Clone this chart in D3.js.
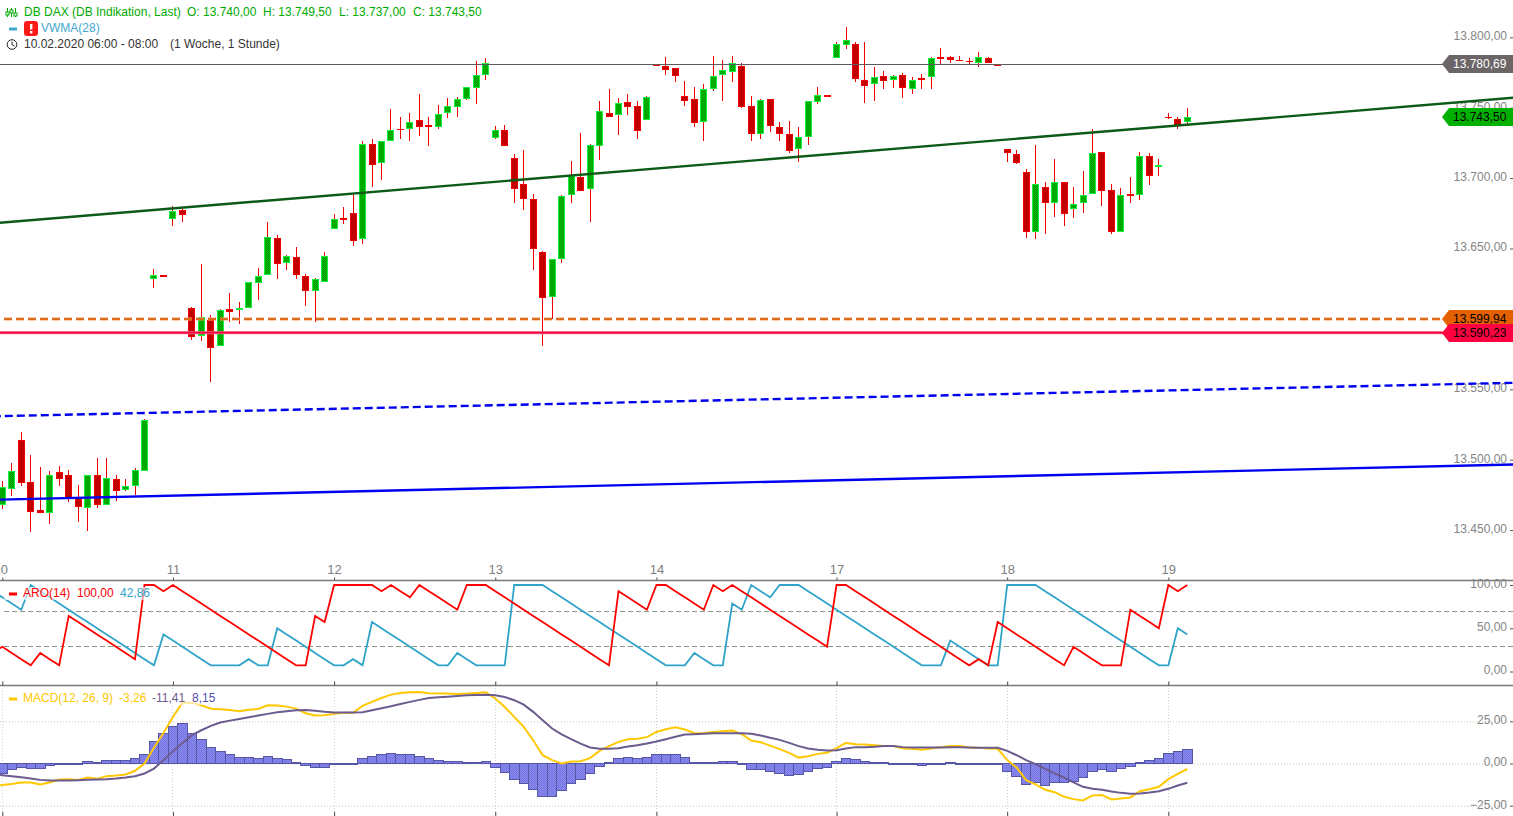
<!DOCTYPE html>
<html>
<head>
<meta charset="utf-8">
<script src="https://cdn.jsdelivr.net/npm/d3@7"></script>
<style>
body { margin: 0; background: #fff; overflow: hidden; }
text { font-family: "Liberation Sans", Arial, sans-serif; font-size: 12px; }
</style>
</head>
<body>
<div id="chart"></div>
<script>
// hourly candles
var opens = [13467.5,13479.5,13514,13484,13464.5,13462,13491,13489,13473.5,13466,
13489,13467.5,13486,13478.5,13481,13492,13628,13631,13671,13677,
13607.5,13588,13599,13580.5,13607,13606.5,13608,13625.5,13631.5,13657.5,
13640,13644,13630.5,13620,13626.5,13663.5,13672,13675,13656.5,13724.5,
13710.5,13726,13735,13735,13741,13737.5,13736,13746,13750.5,13756,
13764,13773.5,13728.5,13734.5,13714,13695.5,13685,13647.5,13615.5,13642.5,
13688,13700.5,13692,13722.5,13746.5,13744.5,13754,13751.5,13741,13781,
13779.5,13778.5,13758,13756.5,13739.5,13763,13773,13775.5,13779.5,13751,
13731,13756.5,13736,13731,13720.5,13729.5,13754,13759,13785,13794.5,
13795,13770,13766.5,13772.5,13770,13773,13763.5,13771,13771.5,13786,
13786,13784,13783.5,13782,13785,13781,13721,13717,13704,13662,
13694,13682,13697.5,13678,13682,13688.5,13718.5,13691.5,13662,13688.5,
13688,13716,13708,13743.5,13742,13740]
var highs = [13485,13497.5,13519.5,13503,13495,13492,13495.5,13493,13482,13489,
13501,13501,13489,13486.5,13494,13529,13635.5,13631,13680.5,13678.5,
13608.5,13639,13602.5,13607,13618.5,13612,13626.5,13636.5,13668.5,13659.5,
13645.5,13651,13632,13629,13647.5,13674.5,13679.5,13688,13726,13727.5,
13726,13749,13743.5,13746,13759.5,13743.5,13752,13757,13757.5,13764.5,
13783,13785.5,13737,13737.5,13717,13720,13688.5,13648,13642.5,13688,
13712.5,13732,13724.5,13755,13763.5,13757,13759.5,13755,13758.5,13781,
13786,13778.5,13769,13764.5,13767,13786.5,13784,13786.5,13781.5,13758.5,
13756.5,13756.5,13740,13740.5,13736,13754.5,13764.5,13759,13796.5,13807.5,
13796.5,13796.5,13779,13776,13773,13775,13771.5,13774,13786,13792.5,
13786.5,13786.5,13785,13789.5,13786,13781,13721,13720,13706.5,13723.5,
13697.5,13713.5,13697.5,13694,13705,13735,13718.5,13696,13693,13700.5,
13718.5,13717.5,13713.5,13746.5,13743.5,13749.5]
var lows = [13465,13474.5,13481,13449,13462.5,13454.5,13481,13470,13455.5,13449.5,
13466,13467.5,13471,13478,13475,13492,13622,13630,13666,13669,
13585,13584,13555.5,13580.5,13598,13596.5,13607.5,13613.5,13631.5,13628.5,
13634.5,13628,13609.5,13597.5,13626.5,13663.5,13667.5,13652,13653.5,13694,
13699,13726,13728,13726,13730,13723,13735,13742.5,13743.5,13755.5,
13752.5,13769.5,13727.5,13722.5,13682.5,13677,13635,13580.5,13600,13640,
13682.5,13690.5,13668.5,13713,13743.5,13730.5,13744.5,13728,13741,13780.5,
13773.5,13768.5,13751.5,13736.5,13726.5,13762,13755,13768.5,13750,13726.5,
13728,13732.5,13726.5,13718,13711.5,13723.5,13752.5,13758.5,13785,13791.5,
13768.5,13753.5,13754.5,13763,13764,13757,13760,13763.5,13763.5,13780.5,
13781.5,13783.5,13780.5,13779,13781.5,13780.5,13711.5,13710,13657.5,13657,
13660,13672.5,13666,13672,13675.5,13688.5,13680.5,13660.5,13662,13682.5,
13684.5,13695,13701.5,13742,13735,13737]
var closes = [13480.5,13492,13483.5,13463,13462.5,13489,13486.5,13472.5,13466.5,13489,
13467.5,13487,13478,13481,13493,13528,13631,13630,13676.5,13673.5,
13587.5,13601,13579.5,13606,13605,13608,13626.5,13630.5,13658,13639,
13644.5,13631.5,13619.5,13628,13645,13671,13670,13655.5,13724,13709.5,
13726,13734.5,13734.5,13739.5,13736,13736,13745.5,13751,13756.5,13764.5,
13773,13781.5,13734,13722.5,13692.5,13685.5,13650,13614.5,13642.5,13687,
13701.5,13690.5,13723.5,13748,13743.5,13753,13750.5,13733.5,13757.5,13780.5,
13777,13772.5,13755,13739,13763,13772.5,13776.5,13781.5,13750.5,13731,
13755.5,13737,13731.5,13719.5,13729.5,13754.5,13759,13758.5,13795,13798,
13770.5,13765.5,13771.5,13769,13772.5,13764,13770,13770.5,13785,13785,
13784,13783.5,13783,13786,13781.5,13780.5,13717.5,13711,13661.5,13695.5,
13682,13697,13674.5,13681.5,13688,13717.5,13690.5,13662,13688,13687.5,
13716,13701.5,13709,13743,13737.5,13743.5]

var dayTicks = [0,18,35,52,69,88,106,123]
var dayLabels = ["10","11","12","13","14","17","18","19"]
var priceTicks = [13800,13750,13700,13650,13600,13550,13500,13450]
var aroTicks = [100,50,0]
var aroLevels = [70,30]
var macdTicks = [25,0,-25]

// trend lines, [bar, price]
var greenTrend = [[-1,13667.9],[160,13757.4]]
var blueDashTrend = [[-1,13530.8],[160,13554.7]]
var blueTrend = [[-1,13471.5],[160,13496.7]]
var lastClose = 13780.69
var orangeLevel = 13599.94
var redLevel = 13590.23
var tagPrices = [13780.69,13743.50,13599.94,13590.23]
var tagFills = ["#6b6567","#00b000","#e46000","#ff0040"]
var tagText = ["#fff","#000","#000","#000"]

// both aroon series start one bar before the visible chart
var aroUp = [21.43,28.57,21.43,14.29,7.14,21.43,14.29,7.14,64.29,57.14,50,42.86,35.71,28.57,21.43,14.29,
100,100,92.86,100,92.86,85.71,78.57,71.43,64.29,57.14,50,42.86,35.71,28.57,21.43,14.29,7.14,7.14,64.29,57.14,
100,100,100,100,100,92.86,100,92.86,85.71,100,92.86,85.71,78.57,71.43,100,100,100,92.86,85.71,78.57,71.43,
64.29,57.14,50,42.86,35.71,28.57,21.43,14.29,7.14,92.86,85.71,78.57,71.43,100,100,92.86,85.71,78.57,71.43,
100,92.86,100,92.86,85.71,78.57,71.43,64.29,57.14,50,42.86,35.71,28.57,100,100,92.86,85.71,78.57,71.43,
64.29,57.14,50,42.86,35.71,28.57,21.43,14.29,7.14,14.29,7.14,57.14,50,42.86,35.71,28.57,21.43,14.29,7.14,
28.57,21.43,14.29,7.14,7.14,7.14,71.43,64.29,57.14,50,100,92.86,100]
var aroDown = [92.86,85.71,78.57,71.43,100,92.86,85.71,78.57,71.43,64.29,57.14,50,42.86,35.71,28.57,21.43,14.29,7.14,
42.86,35.71,28.57,21.43,14.29,7.14,7.14,7.14,7.14,14.29,7.14,7.14,50,42.86,35.71,28.57,21.43,14.29,7.14,7.14,14.29,7.14,
57.14,50,42.86,35.71,28.57,21.43,14.29,7.14,7.14,21.43,14.29,7.14,7.14,7.14,7.14,100,100,100,100,
92.86,85.71,78.57,71.43,64.29,57.14,50,42.86,35.71,28.57,21.43,14.29,7.14,7.14,7.14,21.43,14.29,7.14,7.14,
78.57,71.43,100,92.86,85.71,100,100,100,92.86,85.71,78.57,71.43,64.29,57.14,50,42.86,35.71,28.57,21.43,14.29,7.14,7.14,7.14,
35.71,28.57,21.43,14.29,7.14,7.14,100,100,100,100,92.86,85.71,78.57,71.43,64.29,57.14,50,42.86,35.71,28.57,21.43,14.29,7.14,7.14,50,42.86]

// macd and signal also start one bar before the visible chart
var macdLine = [-13.8,-12.8,-12.2,-11.2,-11.2,-12.4,-11.2,-9.5,-9.3,-9.7,-8.3,-9.1,-7.5,-7.1,-6.5,-4.3,0,9.3,18.1,27.6,36.1,
35.9,34.5,32.5,32.1,31.7,31,31.9,32.3,34.5,34.3,33.7,32.5,29.8,28.4,28.6,29.4,30,30,34.1,36.5,38.8,40.8,41.8,42.2,42.4,
41.6,41.4,41.4,41.2,41.4,41.8,42.2,38.5,33.5,27.6,21.7,13.8,4.9,2,0,1.2,1.4,3.2,7.5,10.3,12.8,14.4,14.6,15.6,18.7,20.3,
21.5,20.1,17.9,18.1,18.7,19.1,19.5,17.4,13.6,12.6,10.6,8.5,6.3,3.5,4.3,5.7,6.3,9.1,12.2,11.4,11.2,10.8,10.3,10.3,8.9,8.7,
8.1,8.9,9.7,10.3,10.3,9.5,9.3,8.9,8.7,2,-2.4,-9.9,-12.4,-15.6,-17,-19.7,-21.1,-21.9,-18.9,-18.7,-21.3,-20.7,-20.1,-16.4,
-15.2,-13.8,-9.3,-6.1,-3.26]
var signalLine = [-6.5,-6.9,-7.5,-8.1,-8.9,-9.7,-10.1,-10.1,-10.1,-9.9,-9.7,-9.5,-9.3,-8.9,-8.3,-7.5,-5.9,-3,2,7.3,12.2,
16.8,19.7,22.3,24.3,25.4,26.4,27.4,28.4,29.4,30.4,31,31.6,31.7,31.2,30.6,30.2,30.2,30.2,30.4,31.6,32.7,33.9,35.3,36.5,37.7,
38.8,39.2,39.6,40,40.4,40.6,40.8,40.4,39.4,37.5,34.9,30.6,25.6,20.7,17.2,14.4,11.8,9.5,8.7,8.7,9.1,10.1,10.8,11.8,13,14.4,
15.8,17.2,17.4,17.6,17.9,17.9,17.9,17.9,17.6,16.6,15.2,14,12.2,10.3,8.9,8.1,7.7,7.9,8.9,9.7,9.7,9.9,10.3,10.3,9.7,9.5,
9.5,9.5,9.5,9.7,9.7,9.5,9.3,9.3,9.3,7.5,4.9,2,-0.4,-3,-5.9,-8.3,-11.2,-13.8,-15,-15.6,-16.6,-17.4,-17.9,-17.7,
-17.2,-16.4,-15,-13,-11.41]
var macdHist = [-5.9,-3.5,-2.4,-3.2,-3,-1.4,0,0,0,1.4,0.8,1.8,1.8,1.8,3,5.3,13,17.7,21.9,23.7,
17.7,14.2,9.5,7.1,5.3,3.5,3.5,3,4.1,3,2.4,0.8,-1.2,-2.6,-2.6,-0.6,0,-0.6,3,4.1,
5.3,5.9,5.3,5.3,4.1,3,1.8,1.2,1.2,0.6,0.6,1.2,-2.6,-5.3,-9.5,-11.8,-15.4,-19.5,-19.5,-16,
-11.8,-9.5,-5.9,-2,0.6,3,3.5,3,3.5,5.3,5.3,5.3,3.5,0.6,0.4,0.4,1.2,1.2,-0.4,-3.5,
-3.5,-4.7,-5.9,-7.1,-6.5,-4.7,-3,-2.4,1.2,3,2.4,1.2,0.8,0.8,0,-0.6,-0.6,-1.2,0,0,
0.8,0,0,0,-0.6,-0.6,-4.7,-7.7,-12.4,-11.2,-13,-11.2,-11.2,-10.6,-8.3,-4.7,-3.5,-4.7,-3,-1.8,
0.6,1.8,3,5.9,7.1,8.15]

var width = 1513
var height = 816
var panes = {
    mainBottom: 580.5,
    aroBottom: 685.5
}

var fmt = d3.formatLocale({decimal: ",", thousands: ".", grouping: [3], currency: ["", ""]}).format(",.2f")

var x = d3.scaleLinear().domain([0,125]).range([2.3,1187.3])
var y = d3.scaleLinear().domain([13450,13800]).range([530.1,37.3])
var yAro = d3.scaleLinear().domain([0,100]).range([671.5,585])
var yMacd = d3.scaleLinear().domain([-25,25]).range([805.7,721.3])

var svg = d3.select("#chart").append("svg").attr("width",width).attr("height",height).style("display","block")
var defs = svg.append("defs")

// the original paints the bodies with a dither, a small checker gets close
function checker(id, c1, c2){
    var p = defs.append("pattern").attr("id",id).attr("width",2).attr("height",2).attr("patternUnits","userSpaceOnUse")
    p.append("rect").attr("width",2).attr("height",2).attr("fill",c1)
    p.append("rect").attr("width",1).attr("height",1).attr("fill",c2)
    p.append("rect").attr("x",1).attr("y",1).attr("width",1).attr("height",1).attr("fill",c2)
}
checker("upFill","#00bc00","#009a00")
checker("downFill","#d40000","#ae0000")
checker("histFill","#8c8cf0","#7474e0")

// price axis, drawn first so the lines run over its labels
var priceAxis = d3.axisLeft(y).tickValues(priceTicks).tickFormat(fmt).tickSize(3).tickPadding(3)
var gPrice = svg.append("g").attr("transform","translate(1513,0)").call(priceAxis)
gPrice.select(".domain").remove()
gPrice.selectAll("line").attr("stroke","#555")
gPrice.selectAll("text").attr("fill","#858585").attr("dy","0.2em").style("font-size","12px").style("font-family","'Liberation Sans', Arial")

// candles
var bars = d3.range(opens.length)
var candles = svg.append("g").attr("shape-rendering","crispEdges")
candles.selectAll("line").data(bars).enter().append("line")
    .attr("x1", function(d){ return Math.floor(x(d)) + 0.5 })
    .attr("x2", function(d){ return Math.floor(x(d)) + 0.5 })
    .attr("y1", function(d){ return y(highs[d]) })
    .attr("y2", function(d){ return y(lows[d]) })
    .attr("stroke","#f00000")
candles.selectAll("rect").data(bars).enter().append("rect")
    .attr("x", function(d){ return Math.floor(x(d)) - 2.5 })
    .attr("y", function(d){ return y(Math.max(opens[d],closes[d])) + 0.5 })
    .attr("width",6)
    .attr("height", function(d){ return Math.max(Math.abs(y(opens[d]) - y(closes[d])) - 1, 0.6) })
    .attr("fill", function(d){ return closes[d] >= opens[d] ? "url(#upFill)" : "url(#downFill)" })
    .attr("stroke", function(d){ return closes[d] >= opens[d] ? "#14f03c" : "#f50000" })

// trend lines and levels
var trendLine = d3.line().x(function(d){ return x(d[0]) }).y(function(d){ return y(d[1]) })
svg.append("line").attr("x1",0).attr("x2",1445).attr("y1",65.5).attr("y2",65.5).datum(lastClose)
    .attr("y1",function(d){ return Math.round(y(d)) + 0.5 }).attr("y2",function(d){ return Math.round(y(d)) + 0.5 })
    .attr("stroke","#5f5a60").attr("shape-rendering","crispEdges")
svg.append("line").attr("x1",4).attr("x2",1445).attr("y1",y(orangeLevel)).attr("y2",y(orangeLevel))
    .attr("stroke","#f0a070").attr("stroke-width",3).attr("stroke-dasharray","8,4")
svg.append("line").attr("x1",4).attr("x2",1445).attr("y1",y(orangeLevel)).attr("y2",y(orangeLevel))
    .attr("stroke","#d85a00").attr("stroke-width",1.6).attr("stroke-dasharray","8,4")
svg.append("line").attr("x1",0).attr("x2",1445).attr("y1",y(redLevel)).attr("y2",y(redLevel))
    .attr("stroke","#ff7095").attr("stroke-width",3)
svg.append("line").attr("x1",0).attr("x2",1445).attr("y1",y(redLevel)).attr("y2",y(redLevel))
    .attr("stroke","#f5003c").attr("stroke-width",1.6)
svg.append("path").attr("d",trendLine(greenTrend)).attr("fill","none").attr("stroke","#0b5a16").attr("stroke-width",2.4)
svg.append("path").attr("d",trendLine(blueDashTrend)).attr("fill","none").attr("stroke","#0000f0").attr("stroke-width",2.4).attr("stroke-dasharray","8,4")
svg.append("path").attr("d",trendLine(blueTrend)).attr("fill","none").attr("stroke","#0000f0").attr("stroke-width",2.4)

// price tags on the right
var tags = svg.selectAll("g.tag").data(tagPrices).enter().append("g").attr("class","tag")
    .attr("transform", function(d){ return "translate(0," + Math.round(y(d)) + ")" })
tags.append("path").attr("d","M1442,0L1449,-9L1513,-9L1513,9L1449,9Z")
    .attr("fill", function(d,i){ return tagFills[i] })
tags.append("text").attr("x",1453).attr("y",4).text(function(d){ return fmt(d) })
    .attr("fill", function(d,i){ return tagText[i] })

// day labels and separators
var dayAxis = d3.axisTop(x).tickValues(dayTicks).tickFormat(function(d,i){ return dayLabels[i] }).tickSize(3).tickPadding(4)
var gDay = svg.append("g").attr("transform","translate(0," + panes.mainBottom + ")").call(dayAxis)
gDay.select(".domain").remove()
gDay.selectAll("line").attr("stroke","#444")
gDay.selectAll("text").attr("fill","#808080").style("font-size","13px").style("font-family","'Liberation Sans', Arial")
// first label sits half outside the window, its "1" is cut away in the original too
gDay.selectAll("text").filter(function(d){ return d === 0 }).attr("dx","-2")

svg.selectAll("line.sep").data([panes.mainBottom,panes.aroBottom]).enter().append("line").attr("class","sep")
    .attr("x1",0).attr("x2",width).attr("y1",function(d){ return d }).attr("y2",function(d){ return d })
    .attr("stroke","#7a7a7a").attr("stroke-width",1.5)

// tick stubs at the pane edges
;[panes.aroBottom, height].forEach(function(p){
    var g = svg.append("g").attr("transform","translate(0," + p + ")").call(d3.axisTop(x).tickValues(dayTicks).tickFormat("").tickSize(4))
    g.select(".domain").remove()
    g.selectAll("line").attr("stroke","#444")
})

// aroon pane
svg.selectAll("line.aroLevel").data(aroLevels).enter().append("line").attr("class","aroLevel")
    .attr("x1",4).attr("x2",width).attr("y1",function(d){ return Math.round(yAro(d))+0.5 }).attr("y2",function(d){ return Math.round(yAro(d))+0.5 })
    .attr("stroke","#8a9a8a").attr("stroke-dasharray","5,3").attr("shape-rendering","crispEdges")
var aroPath = d3.line().x(function(d,i){ return x(i-1) }).y(function(d){ return yAro(d) })
svg.append("path").attr("d",aroPath(aroDown)).attr("fill","none").attr("stroke","#2fa4c8").attr("stroke-width",1.8)
svg.append("path").attr("d",aroPath(aroUp)).attr("fill","none").attr("stroke","#ff0000").attr("stroke-width",1.8)

var gAro = svg.append("g").attr("transform","translate(1513,0)").call(d3.axisLeft(yAro).tickValues(aroTicks).tickFormat(fmt).tickSize(3).tickPadding(3))
gAro.select(".domain").remove()
gAro.selectAll("line").attr("stroke","#555")
gAro.selectAll("text").attr("fill","#858585").attr("dy","0.2em").style("font-size","12px").style("font-family","'Liberation Sans', Arial")

// macd pane
svg.selectAll("line.grid").data(dayTicks).enter().append("line").attr("class","grid")
    .attr("x1",function(d){ return Math.floor(x(d))+0.5 }).attr("x2",function(d){ return Math.floor(x(d))+0.5 })
    .attr("y1",688).attr("y2",812).attr("stroke","#c6cfdf").attr("stroke-dasharray","1,2")
svg.selectAll("line.macdLevel").data(macdTicks).enter().append("line").attr("class","macdLevel")
    .attr("x1",0).attr("x2",1500).attr("y1",function(d){ return yMacd(d)+0.5 }).attr("y2",function(d){ return yMacd(d)+0.5 })
    .attr("stroke","#c4c4c4").attr("stroke-dasharray","1,2")

svg.append("g").attr("shape-rendering","crispEdges").selectAll("rect").data(macdHist).enter().append("rect")
    .attr("x",function(d,i){ return x(i) - 4.7 })
    .attr("width",9.48)
    .attr("y",function(d){ return Math.min(yMacd(d),yMacd(0)) })
    .attr("height",function(d){ return Math.max(Math.abs(yMacd(d)-yMacd(0)),0.5) })
    .attr("fill","url(#histFill)")
    .attr("stroke","#5656a6")

var macdPath = d3.line().x(function(d,i){ return x(i-1) }).y(function(d){ return yMacd(d) })
svg.append("path").attr("d",macdPath(macdLine)).attr("fill","none").attr("stroke","#ffc800").attr("stroke-width",2)
svg.append("path").attr("d",macdPath(signalLine)).attr("fill","none").attr("stroke","#6b5b8e").attr("stroke-width",2)

var gMacd = svg.append("g").attr("transform","translate(1513,0)").call(d3.axisLeft(yMacd).tickValues(macdTicks).tickFormat(fmt).tickSize(3).tickPadding(3))
gMacd.select(".domain").remove()
gMacd.selectAll("line").attr("stroke","#555")
gMacd.selectAll("text").attr("fill","#858585").attr("dy","0.2em").style("font-size","12px").style("font-family","'Liberation Sans', Arial")

// legends
function label(px, py, txt, col){
    svg.append("text").attr("x",px).attr("y",py).text(txt).attr("fill",col)
}
var greenText = "#00aa00"
label(24,16,"DB DAX (DB Indikation, Last)",greenText)
label(187,16,"O: 13.740,00",greenText)
label(263,16,"H: 13.749,50",greenText)
label(339,16,"L: 13.737,00",greenText)
label(413,16,"C: 13.743,50",greenText)
label(41,32,"VWMA(28)","#3fa7cf")
label(24,48,"10.02.2020 06:00 - 08:00","#333333")
label(170,48,"(1 Woche, 1 Stunde)","#333333")

// indicator icon
;[7.5,11.5,15.5].forEach(function(px,i){
    svg.append("line").attr("x1",px).attr("x2",px).attr("y1",8).attr("y2",17).attr("stroke","#00aa00")
    svg.append("rect").attr("x",px-1.5).attr("y",[12,10,13][i]).attr("width",3).attr("height",3).attr("fill","#fff").attr("stroke","#00aa00")
})
svg.append("rect").attr("x",9).attr("y",27.5).attr("width",8).attr("height",3).attr("fill","#3fa7cf")
svg.append("rect").attr("x",24).attr("y",21).attr("width",14).attr("height",15).attr("rx",3).attr("fill","#ff1a1a")
svg.append("rect").attr("x",30).attr("y",24).attr("width",2.4).attr("height",5.5).attr("fill","#fff")
svg.append("rect").attr("x",30).attr("y",31).attr("width",2.4).attr("height",2.4).attr("fill","#fff")
svg.append("circle").attr("cx",12).attr("cy",44.5).attr("r",4.8).attr("fill","none").attr("stroke","#222")
svg.append("path").attr("d","M12,41.5L12,44.5L14.5,46").attr("fill","none").attr("stroke","#222")

svg.append("rect").attr("x",4).attr("y",587).attr("width",148).attr("height",13).attr("fill","#fff").attr("opacity",0.6)
svg.append("rect").attr("x",9).attr("y",592.5).attr("width",8).attr("height",3).attr("fill","#ff0000")
label(23,597,"ARO(14)","#ff0000")
label(77,597,"100,00","#ff0000")
label(120,597,"42,86","#2fa4c8")

svg.append("rect").attr("x",4).attr("y",692).attr("width",212).attr("height",13).attr("fill","#fff").attr("opacity",0.6)
svg.append("rect").attr("x",9).attr("y",697.5).attr("width",8).attr("height",3).attr("fill","#ffc800")
label(23,702,"MACD(12, 26, 9)","#ffc800")
label(119,702,"-3,26","#ffc800")
label(152,702,"-11,41","#6b5b8e")
label(192,702,"8,15","#5050b0")
</script>
</body>
</html>
